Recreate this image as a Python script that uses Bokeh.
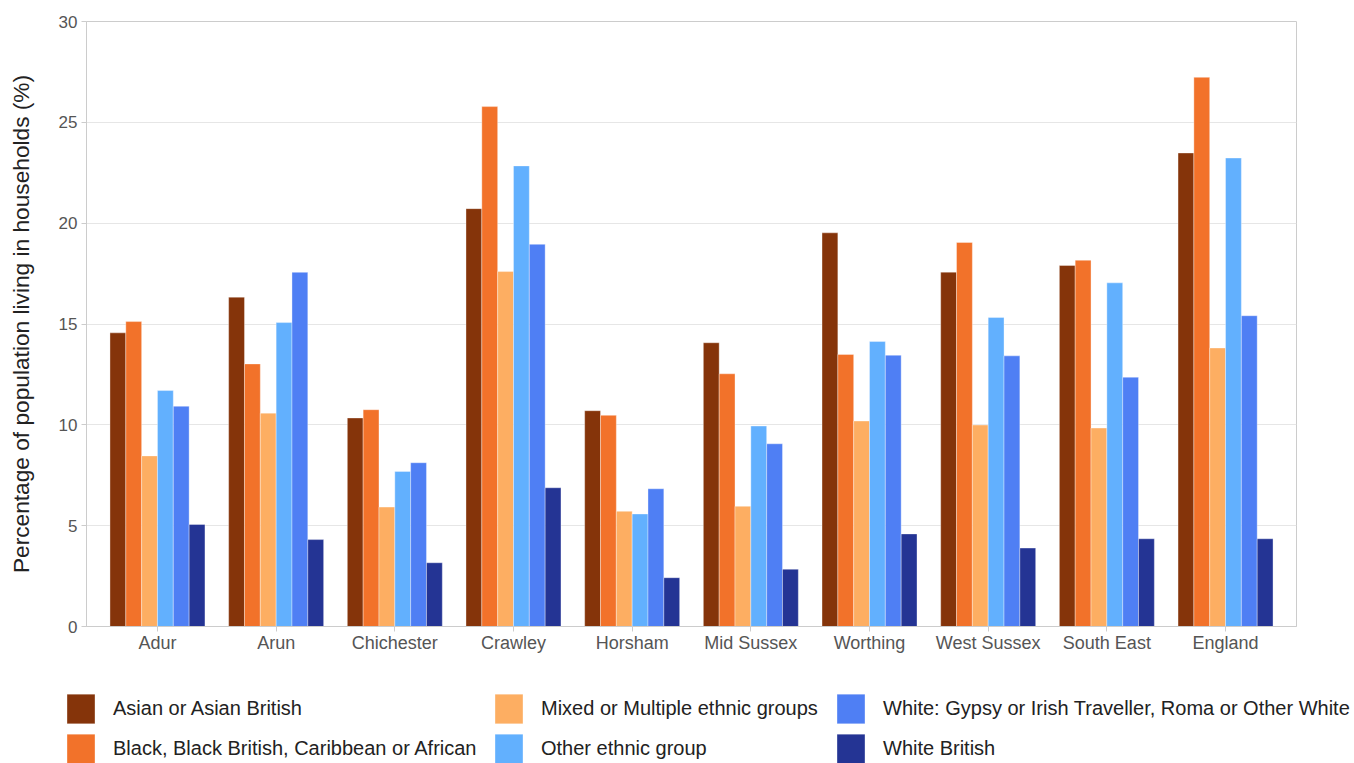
from bokeh.plotting import figure
from bokeh.models import (ColumnDataSource, FactorRange, Range1d, Legend, LegendItem,
                          SingleIntervalTicker)
from bokeh.transform import dodge
from bokeh.layouts import column
from bokeh.embed import file_html
from bokeh.resources import INLINE

categories = ["Adur", "Arun", "Chichester", "Crawley", "Horsham", "Mid Sussex",
              "Worthing", "West Sussex", "South East", "England"]

asian = [14.56, 16.33, 10.34, 20.72, 10.70, 14.07, 19.52, 17.57, 17.90, 23.48]
black = [15.12, 13.02, 10.75, 25.78, 10.47, 12.53, 13.49, 19.04, 18.16, 27.23]
mixed = [8.46, 10.58, 5.92, 17.60, 5.71, 5.96, 10.19, 9.99, 9.84, 13.81]
other = [11.70, 15.07, 7.69, 22.84, 5.58, 9.94, 14.13, 15.32, 17.04, 23.23]
white_other = [10.92, 17.56, 8.12, 18.95, 6.83, 9.06, 13.45, 13.42, 12.36, 15.41]
white_british = [5.06, 4.31, 3.16, 6.88, 2.42, 2.84, 4.59, 3.89, 4.35, 4.35]

series_names = ["Asian or Asian British",
                "Black, Black British, Caribbean or African",
                "Mixed or Multiple ethnic groups",
                "Other ethnic group",
                "White: Gypsy or Irish Traveller, Roma or Other White",
                "White British"]
series_values = [asian, black, mixed, other, white_other, white_british]
colors = ["#85340A", "#F2722A", "#FDAE62", "#62B0FE", "#4F7FF4", "#243494"]

FONT = "Liberation Sans"
W = 1354

source = ColumnDataSource(dict(cat=categories, s0=asian, s1=black, s2=mixed,
                               s3=other, s4=white_other, s5=white_british))

p = figure(x_range=FactorRange(factors=categories, range_padding=0.098,
                               range_padding_units="absolute"),
           y_range=Range1d(0, 30),
           width=W, height=688, output_backend="svg", toolbar_location=None,
           min_border_left=86, min_border_right=58, min_border_top=21,
           min_border_bottom=62)
p.frame_align = False

bw = 0.1334
for i in range(6):
    p.vbar(x=dodge("cat", (i - 2.5) * bw, range=p.x_range), top="s%d" % i,
           width=bw, source=source, fill_color=colors[i],
           line_color="white", line_alpha=0.35, line_width=1)

p.outline_line_color = "#cccccc"
p.xgrid.grid_line_color = None
p.ygrid.grid_line_color = "#e6e6e6"
p.ygrid.grid_line_width = 1

p.yaxis.ticker = SingleIntervalTicker(interval=5)
p.yaxis.minor_tick_line_color = None
p.yaxis.axis_line_color = "#cccccc"
p.yaxis.major_tick_line_color = "#cccccc"
p.yaxis.major_tick_in = 0
p.yaxis.major_tick_out = 5
p.yaxis.major_label_standoff = 4
p.yaxis.major_label_text_font = FONT
p.yaxis.major_label_text_font_size = "17px"
p.yaxis.major_label_text_color = "#555555"
p.yaxis.axis_label = "Percentage of population living in households (%)"
p.yaxis.axis_label_text_font = FONT
p.yaxis.axis_label_text_font_size = "22.7px"
p.yaxis.axis_label_text_font_style = "normal"
p.yaxis.axis_label_text_color = "#222222"
p.yaxis.axis_label_standoff = 22

p.xaxis.axis_line_color = "#cccccc"
p.xaxis.major_tick_line_color = "#cccccc"
p.xaxis.major_tick_in = 0
p.xaxis.major_tick_out = 5
p.xaxis.major_label_standoff = 1
p.xaxis.major_label_text_font = FONT
p.xaxis.major_label_text_font_size = "18px"
p.xaxis.major_label_text_color = "#555555"

# legend-only figure under the chart
lg = figure(width=W, height=75, output_backend="svg", toolbar_location=None,
            x_range=Range1d(0, 1), y_range=Range1d(0, 1),
            x_axis_type=None, y_axis_type=None,
            min_border_left=0, min_border_right=0, min_border_top=0,
            min_border_bottom=0)
lg.frame_align = False
lg.outline_line_color = None
lg.xgrid.grid_line_color = None
lg.ygrid.grid_line_color = None

dummies = []
for i in range(6):
    r = lg.vbar(x=[-10], top=[0], width=0.1, fill_color=colors[i],
                line_color="white", line_alpha=0.35, line_width=1)
    dummies.append(r)

xpos = [63, 491, 833]
for c in range(3):
    items = [LegendItem(label=series_names[2 * c + k], renderers=[dummies[2 * c + k]])
             for k in range(2)]
    leg = Legend(items=items, location=(xpos[c], -4), orientation="vertical",
                 glyph_width=35, glyph_height=37, label_height=37, spacing=3,
                 label_standoff=15, padding=0, margin=0,
                 border_line_color=None, background_fill_alpha=0,
                 label_text_font=FONT, label_text_font_size="20px",
                 label_text_color="#222222")
    lg.add_layout(leg, "center")

layout = column(p, lg, spacing=0)
open("out.html", "w").write(file_html(layout, INLINE))
